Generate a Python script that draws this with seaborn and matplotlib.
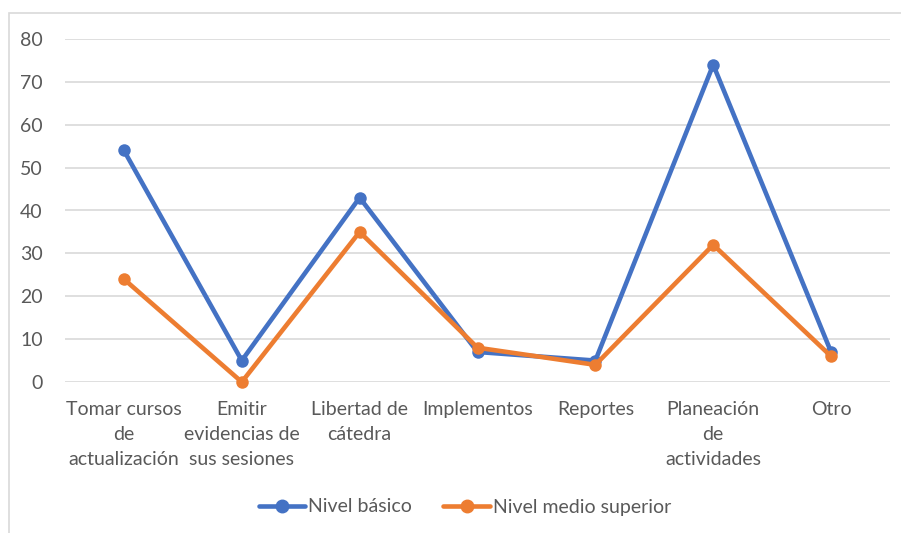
import matplotlib.pyplot as plt
import matplotlib.patches as mpatches
import seaborn as sns
import pandas as pd

# Datos del gráfico
categorias = ["Tomar cursos de actualización", "Emitir evidencias de sus sesiones",
              "Libertad de cátedra", "Implementos", "Reportes",
              "Planeación de actividades", "Otro"]
etiquetas = ["Tomar cursos\nde\nactualización", "Emitir\nevidencias de\nsus sesiones",
             "Libertad de\ncátedra", "Implementos", "Reportes",
             "Planeación\nde\nactividades", "Otro"]
nivel_basico = [54, 5, 43, 7, 5, 74, 7]
nivel_medio_superior = [24, 0, 35, 8, 4, 32, 6]
series = ["Nivel básico", "Nivel medio superior"]
colores = ["#4472C4", "#ED7D31"]

df = pd.DataFrame({
    "categoria": categorias * 2,
    "valor": nivel_basico + nivel_medio_superior,
    "serie": [series[0]] * len(categorias) + [series[1]] * len(categorias),
})
df["pos"] = list(range(len(categorias))) * 2

sns.set_style("white")
plt.rcParams["font.family"] = ["Lato", "DejaVu Sans"]

fig = plt.figure(figsize=(9.01, 5.33), dpi=100)
ax = fig.add_axes([65 / 901, 1 - 382 / 533, 825 / 901, 343 / 533])

sns.lineplot(data=df, x="pos", y="valor", hue="serie", palette=colores,
             marker="o", markersize=9, markeredgewidth=0, linewidth=3.3,
             ax=ax, legend=False, clip_on=False)

ax.set_xlim(-0.5, len(categorias) - 0.5)
ax.set_ylim(0, 80)
ax.set_yticks(range(0, 81, 10))
ax.set_xticks(range(len(categorias)))
ax.set_xticklabels(etiquetas, linespacing=1.55)
ax.tick_params(axis="both", length=0, labelsize=14, colors="#595959")
ax.tick_params(axis="y", pad=16)
ax.tick_params(axis="x", pad=14)
for lbl in ax.get_xticklabels():
    lbl.set_verticalalignment("top")
ax.grid(axis="y", color="#D9D9D9", linewidth=1.2)
ax.set_axisbelow(True)
for s in ax.spines.values():
    s.set_visible(False)
ax.set_xlabel("")
ax.set_ylabel("")

# Marco del gráfico
fig.patches.append(mpatches.Rectangle((9 / 901, -0.2), 1.2, 1 - 13 / 533 + 0.2,
                                      transform=fig.transFigure, fill=False,
                                      edgecolor="#D9D9D9", linewidth=1.2))

handles = [plt.Line2D([], [], color=c, marker="o", markersize=9, linewidth=3.3)
           for c in colores]
fig.legend(handles, series, loc="center", bbox_to_anchor=(465 / 901, 1 - 507 / 533),
           ncol=2, frameon=False, fontsize=14, handlelength=2.4,
           handletextpad=0.15, columnspacing=1.6, labelcolor="#595959")

fig.savefig("out.png", dpi=100)
